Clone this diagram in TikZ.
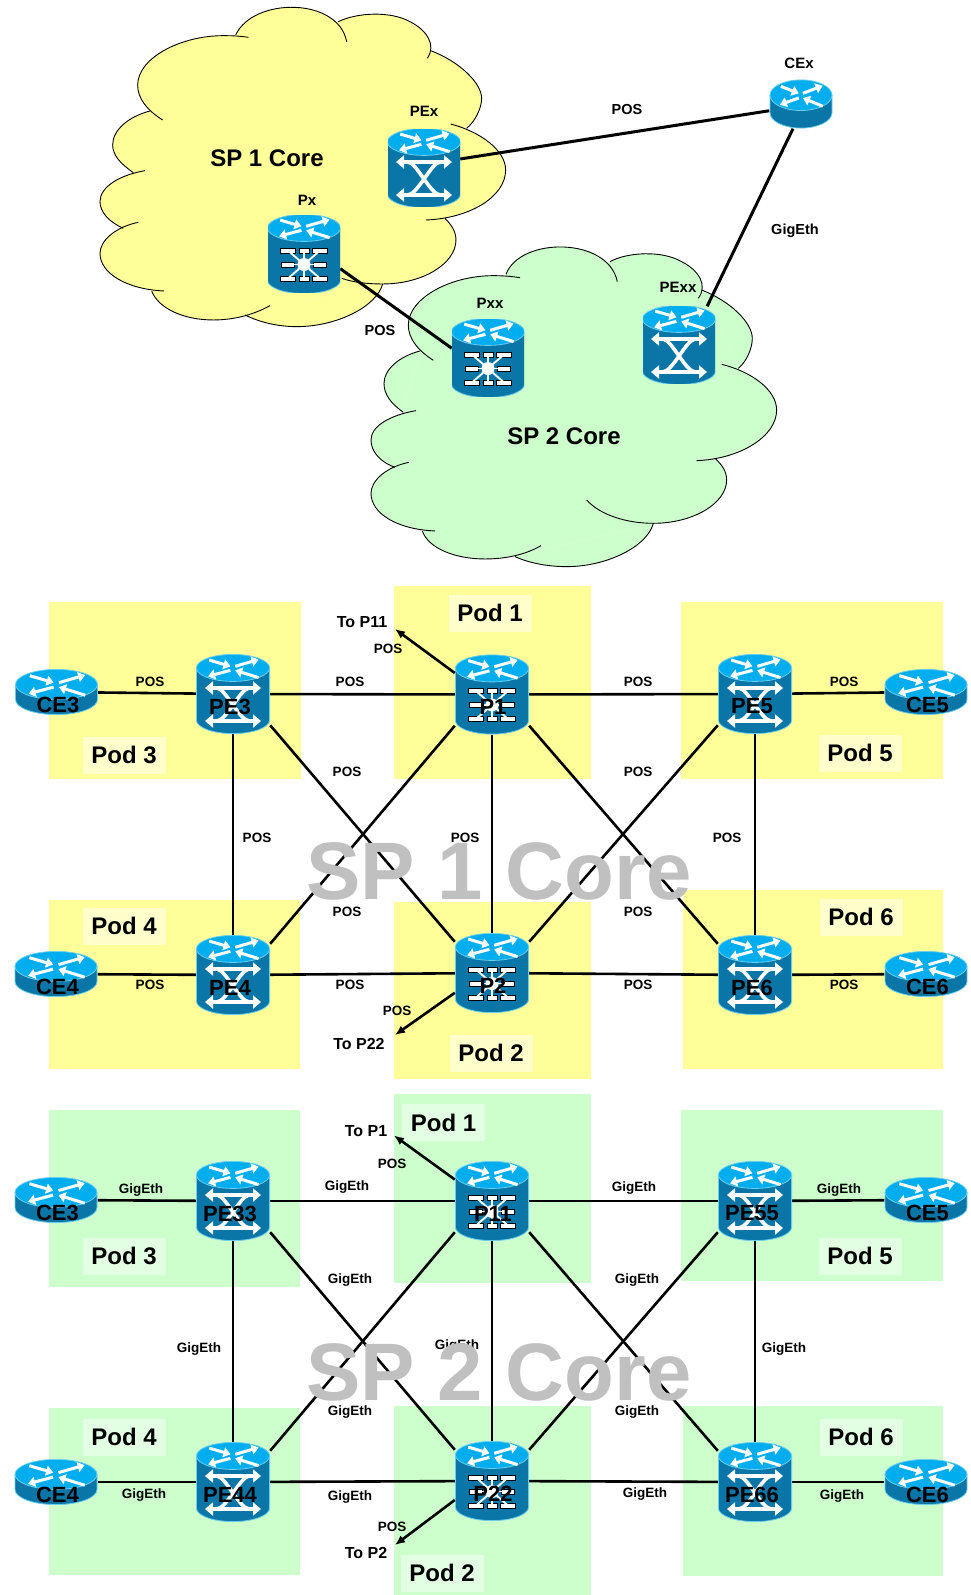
\documentclass[tikz,border=0pt]{standalone}
\usepackage{fontspec}
\setmainfont{Liberation Sans}
\usetikzlibrary{arrows.meta,backgrounds}

\definecolor{bodyblue}{HTML}{0A76A8}
\definecolor{topblue}{HTML}{00AEEF}
\definecolor{edgeblue}{HTML}{6CCDEE}
\definecolor{padyellow}{HTML}{FFFF99}
\definecolor{padgreen}{HTML}{CCFFCC}
\definecolor{tagyellow}{HTML}{FFFFCC}
\definecolor{taggreen}{HTML}{E3FFE3}
\definecolor{markgrey}{HTML}{C0C0C0}

% the cylinder: half width, half height, ry of the ellipses
\newcommand{\cylbase}[3]{%
  \draw[edgeblue,fill=bodyblue,line width=.8pt] (-#1,{#2-#3}) -- (-#1,{-#2+#3})
    arc[start angle=180,end angle=360,x radius=#1,y radius=#3] -- (#1,{#2-#3}) -- cycle;
  \draw[edgeblue,fill=topblue,line width=.8pt] (0,{#2-#3}) ellipse[x radius=#1,y radius=#3];
  \draw[glyph] ({-.65*#1},{#2-.42*#3}) -- ({-.07*#1},{#2-.88*#3});
  \draw[glyph] ({.06*#1},{#2-.88*#3}) -- ({.70*#1},{#2-.38*#3});
  \draw[glyph] ({-.07*#1},{#2-1.18*#3}) -- ({-.68*#1},{#2-1.62*#3});
  \draw[glyph] ({.70*#1},{#2-1.72*#3}) -- ({.06*#1},{#2-1.18*#3});}
\newcommand{\peicon}[1]{%
  \begin{scope}[shift={(path picture bounding box.center)},y=1pt,scale=#1]
    \cylbase{36.6}{39.6}{13.5}
    \draw[xbar] (-16,6) .. controls (-7,5) and (6,-26) .. (16,-27);
    \draw[xbar] (16,6) .. controls (7,5) and (-6,-26) .. (-16,-27);
    \draw[xbar,{Triangle[length=8pt,width=13pt]}-{Triangle[length=8pt,width=13pt]}] (-28,6) -- (28,6);
    \draw[xbar,{Triangle[length=8pt,width=13pt]}-{Triangle[length=8pt,width=13pt]}] (-28,-27) -- (28,-27);
  \end{scope}}
\newcommand{\picon}[1]{%
  \begin{scope}[shift={(path picture bounding box.center)},y=1pt,scale=#1]
    \cylbase{36.6}{39.6}{13.5}
    \foreach \dx/\dy in {-16/14,16/14,-16/-14,16/-14}
      \draw[black,fill=white,line width=.9pt] (\dx-7.5,\dy-13) rectangle (\dx+7.5,\dy-8);
    \foreach \dx/\dy in {-16/0,16/0}
      \draw[black,fill=white,line width=.9pt] (\dx-6.5,\dy-13) rectangle (\dx+6.5,\dy-8);
    \foreach \dx/\dy in {0/14,0/-14}
      \draw[black,fill=white,line width=.9pt] (\dx-5,\dy-13) rectangle (\dx+5,\dy-8);
    \foreach \dx/\dy in {-16/14,0/14,16/14,-16/0,16/0,-16/-14,0/-14,16/-14}
      \draw[white,line width=1.9pt] (0,-10.5) -- (\dx,\dy-10.5);
    \fill[white] (0,-10.5) circle (6.5);
  \end{scope}}
\newcommand{\ceicon}[3]{%
  \begin{scope}[shift={(path picture bounding box.center)},y=1pt]
    \cylbase{#1}{#2}{#3}
  \end{scope}}

\tikzset{
  glyph/.style={white,line width=3pt,-{Triangle[length=7pt,width=10pt]}},
  xbar/.style={white,line width=3.6pt},
  devtext/.style={font=\fontsize{22}{22}\selectfont\bfseries,inner sep=0pt,yshift=-12.5pt},
  pebox/.style={minimum width=74pt,minimum height=80pt,inner sep=0pt,
    path picture={\peicon{1}},label={[devtext,xshift=-3pt]center:#1}},
  pbox/.style={minimum width=74pt,minimum height=80pt,inner sep=0pt,
    path picture={\picon{1}},label={[devtext,xshift=1pt]center:#1}},
  cebox/.style={minimum width=83pt,minimum height=46pt,inner sep=0pt,
    path picture={\ceicon{41}{22.6}{15}},label={[devtext,xshift=1.5pt]center:#1}},
  pesmall/.style={minimum width=72pt,minimum height=77pt,inner sep=0pt,path picture={\peicon{.97}}},
  psmall/.style={minimum width=72pt,minimum height=77pt,inner sep=0pt,path picture={\picon{.97}}},
  cexbox/.style={minimum width=63pt,minimum height=49pt,inner sep=0pt,path picture={\ceicon{31}{24.1}{15.3}}},
  link/.style={line width=2.6pt},
  thicklink/.style={line width=3pt},
  tolink/.style={line width=2.6pt,-{Latex[length=10pt,width=8.5pt]}},
  tag/.style={font=\fontsize{13.5}{14}\selectfont\bfseries,inner sep=0pt},
  toptag/.style={font=\fontsize{14.5}{15}\selectfont\bfseries,inner sep=0pt},
  totag/.style={font=\fontsize{16}{17}\selectfont\bfseries,inner sep=0pt},
  nametag/.style={font=\fontsize{15}{16}\selectfont\bfseries,inner sep=0pt},
  coretag/.style={font=\fontsize{24}{25}\selectfont\bfseries,inner sep=0pt},
  podtag/.style={font=\fontsize{24}{25}\selectfont\bfseries,inner sep=0pt,
    minimum width=83pt,minimum height=37pt},
  watermark/.style={font=\fontsize{81.5}{82}\selectfont\bfseries,text=markgrey,inner sep=0pt},
  cloudline/.style={line width=.9pt},
}

% one list of bumps per cloud, used once to fill and once to stroke
\newcommand{\cloudone}{%
  \bump{(437,105) .. controls (490,-9) and (745,-9) .. (770,125)}
  \bump{(745,65) .. controls (800,38) and (900,32) .. (960,65) .. controls (1010,90) and (1040,135) .. (1012,175)}
  \bump{(1022,152) .. controls (1110,185) and (1175,250) .. (1175,295) .. controls (1175,325) and (1155,365) .. (1130,385)}
  \bump{(1082,372) .. controls (1170,395) and (1247,450) .. (1247,510) .. controls (1247,590) and (1140,655) .. (1008,660)}
  \bump{(1065,655) .. controls (1085,675) and (1098,695) .. (1098,720) .. controls (1098,790) and (1000,852) .. (878,852) .. controls (830,852) and (790,847) .. (755,835)}
  \bump{(878,852) .. controls (860,920) and (740,980) .. (620,980) .. controls (560,980) and (505,965) .. (465,945)}
  \bump{(540,917) .. controls (490,945) and (430,960) .. (370,960) .. controls (280,960) and (205,925) .. (185,873)}
  \bump{(222,873) .. controls (110,868) and (30,820) .. (30,760) .. controls (30,720) and (80,680) .. (145,667)}
  \bump{(100,685) .. controls (55,665) and (30,635) .. (30,605) .. controls (30,560) and (90,525) .. (165,512)}
  \bump{(130,518) .. controls (90,490) and (68,465) .. (68,435) .. controls (68,390) and (115,350) .. (180,333)}
  \bump{(218,360) .. controls (170,330) and (143,295) .. (143,255) .. controls (143,175) and (270,107) .. (400,107) .. controls (425,107) and (450,108) .. (475,112)}}
\newcommand{\cloudtwo}{%
  \bump{(438,118) .. controls (480,5) and (745,5) .. (772,140)}
  \bump{(750,80) .. controls (800,52) and (905,45) .. (965,80) .. controls (1015,105) and (1045,150) .. (1015,190)}
  \bump{(1025,165) .. controls (1115,200) and (1177,265) .. (1177,310) .. controls (1177,340) and (1160,380) .. (1135,400)}
  \bump{(1085,388) .. controls (1175,410) and (1250,465) .. (1250,525) .. controls (1250,605) and (1140,672) .. (1010,677)}
  \bump{(1065,670) .. controls (1087,690) and (1100,710) .. (1100,735) .. controls (1100,805) and (1000,865) .. (880,865) .. controls (800,865) and (720,840) .. (680,795)}
  \bump{(880,865) .. controls (862,935) and (740,995) .. (620,995) .. controls (560,995) and (505,983) .. (465,965)}
  \bump{(543,932) .. controls (495,960) and (435,972) .. (375,972) .. controls (285,972) and (205,940) .. (187,888)}
  \bump{(225,888) .. controls (110,883) and (33,835) .. (33,775) .. controls (33,735) and (82,695) .. (147,682)}
  \bump{(105,697) .. controls (58,680) and (33,648) .. (33,615) .. controls (33,572) and (93,540) .. (168,527)}
  \bump{(130,532) .. controls (92,505) and (72,478) .. (72,445) .. controls (72,405) and (115,365) .. (180,348)}
  \bump{(220,376) .. controls (172,345) and (145,310) .. (145,270) .. controls (145,190) and (270,122) .. (400,122) .. controls (427,122) and (455,124) .. (480,128)}}

\begin{document}
\begin{tikzpicture}[x=1pt,y=-1pt]
\useasboundingbox (0,0) rectangle (971,1595);

% top: the two core clouds
\node[pesmall] (PEx) at (424,168) {};
\node[psmall] (Px) at (304,254) {};
\node[psmall] (Pxx) at (488,358) {};
\node[pesmall] (PExx) at (679,345) {};
\node[cexbox] (CEx) at (801,104) {};

\node[nametag] (tagCEx) at (799,63.5) {CEx};
\node[nametag] (tagPEx) at (424,111.5) {PEx};
\node[nametag] (tagPx) at (307,200.5) {Px};
\node[nametag] (tagPxx) at (490,303.5) {Pxx};
\node[nametag] (tagPExx) at (678,287.5) {PExx};
\node[coretag] (coreA) at (267,158) {SP 1 Core};
\node[coretag] (coreB) at (564,436) {SP 2 Core};
\node[toptag] (posTopA) at (627,110) {POS};
\node[toptag] (gigTop) at (795,231) {GigEth};
\node[toptag] (posTopB) at (380,330.5) {POS};

% middle: SP 1
\node[cebox=CE3] (CE3) at (56.5,692) {};
\node[pebox=PE3] (PE3) at (233,694) {};
\node[pbox=P1] (P1) at (492,694.5) {};
\node[pebox=PE5] (PE5) at (755,694) {};
\node[cebox=CE5] (CE5) at (926,692) {};
\node[cebox=CE4] (CE4) at (56,974) {};
\node[pebox=PE4] (PE4) at (233,975) {};
\node[pbox=P2] (P2) at (492,973) {};
\node[pebox=PE6] (PE6) at (755,975) {};
\node[cebox=CE6] (CE6) at (926,974) {};
\coordinate (toP11) at (395,629);
\coordinate (toP22) at (395,1035);

\node[podtag,fill=tagyellow] (podA3) at (124,755) {Pod 3};
\node[podtag,fill=tagyellow] (podA1) at (490,613) {Pod 1};
\node[podtag,fill=tagyellow] (podA5) at (860,753) {Pod 5};
\node[podtag,fill=tagyellow] (podA4) at (124,926) {Pod 4};
\node[podtag,fill=tagyellow] (podA2) at (491,1053) {Pod 2};
\node[podtag,fill=tagyellow] (podA6) at (861,917) {Pod 6};

\node[totag] (tagToP11) at (362,622) {To P11};
\node[totag] (tagToP22) at (359,1044) {To P22};
\node[tag] (posA1) at (150,681.5) {POS};
\node[tag] (posA2) at (350,681.5) {POS};
\node[tag] (posA3) at (638,681.5) {POS};
\node[tag] (posA4) at (844,681.5) {POS};
\node[tag] (posA5) at (388,648.5) {POS};
\node[tag] (posA6) at (347,771.5) {POS};
\node[tag] (posA7) at (638,771.5) {POS};
\node[tag] (posA8) at (257,837.5) {POS};
\node[tag] (posA9) at (465,837.5) {POS};
\node[tag] (posA10) at (727,837.5) {POS};
\node[tag] (posA11) at (347,911.5) {POS};
\node[tag] (posA12) at (638,911.5) {POS};
\node[tag] (posA13) at (150,985) {POS};
\node[tag] (posA14) at (350,985) {POS};
\node[tag] (posA15) at (638,985) {POS};
\node[tag] (posA16) at (844,985) {POS};
\node[tag] (posA17) at (397,1010.5) {POS};

% bottom: SP 2
\node[cebox=CE3] (CE3b) at (56,1200) {};
\node[pebox=PE33] (PE33) at (233,1201) {};
\node[pbox=P11] (P11) at (492,1201) {};
\node[pebox=PE55] (PE55) at (755,1201) {};
\node[cebox=CE5] (CE5b) at (926,1200) {};
\node[cebox=CE4] (CE4b) at (56,1482) {};
\node[pebox=PE44] (PE44) at (233,1482) {};
\node[pbox=P22] (P22) at (492,1481) {};
\node[pebox=PE66] (PE66) at (755,1482) {};
\node[cebox=CE6] (CE6b) at (926,1482) {};
\coordinate (toP1) at (394,1135.5);
\coordinate (toP2) at (395,1545);

\node[podtag,fill=taggreen] (podB3) at (124,1256) {Pod 3};
\node[podtag,fill=taggreen] (podB1) at (443.5,1122.5) {Pod 1};
\node[podtag,fill=taggreen] (podB5) at (860,1256) {Pod 5};
\node[podtag,fill=taggreen] (podB4) at (124,1437) {Pod 4};
\node[podtag,fill=taggreen] (podB2) at (442,1573) {Pod 2};
\node[podtag,fill=taggreen] (podB6) at (861,1437) {Pod 6};

\node[totag] (tagToP1) at (366,1131) {To P1};
\node[totag] (tagToP2) at (366,1553) {To P2};
\node[tag] (posB1) at (392,1164) {POS};
\node[tag] (posB2) at (392,1527) {POS};
\node[tag] (gigB1) at (141,1190.5) {GigEth};
\node[tag] (gigB2) at (347,1187.5) {GigEth};
\node[tag] (gigB3) at (634,1188.5) {GigEth};
\node[tag] (gigB4) at (839,1190.5) {GigEth};
\node[tag] (gigB5) at (350,1280) {GigEth};
\node[tag] (gigB6) at (637,1280) {GigEth};
\node[tag] (gigB7) at (199,1349) {GigEth};
\node[tag] (gigB8) at (457,1346.5) {GigEth};
\node[tag] (gigB9) at (784,1349.5) {GigEth};
\node[tag] (gigB10) at (350,1412.5) {GigEth};
\node[tag] (gigB11) at (637,1412.5) {GigEth};
\node[tag] (gigB12) at (144,1495.5) {GigEth};
\node[tag] (gigB13) at (350,1497.5) {GigEth};
\node[tag] (gigB14) at (645,1494.5) {GigEth};
\node[tag] (gigB15) at (842,1496.5) {GigEth};

\node[watermark] (markA) at (499,871) {SP 1 Core};
\node[watermark] (markB) at (499,1372) {SP 2 Core};

\draw[tolink] (P1.150) -- (toP11);
\draw[tolink] (P2.208) -- (toP22);
\draw[tolink] (P11.150) -- (toP1);
\draw[tolink] (P22.207) -- (toP2);

\begin{scope}[on background layer]
% clouds
\begin{scope}[shift={(90,0)},x=.3333pt,y=-.3333pt]
  \def\bump#1{\fill[padyellow] #1;}
  \fill[padyellow] (437,105) -- (745,65) -- (1022,152) -- (1130,385) -- (1100,645) -- (1065,655) -- (878,852) -- (465,945) -- (185,873) -- (100,685) -- (130,518) -- (180,333) -- cycle;
  \cloudone
  \def\bump#1{\draw[cloudline] #1;}
  \cloudone
\end{scope}
\begin{scope}[shift={(360,235)},x=.3333pt,y=-.3333pt]
  \def\bump#1{\fill[padgreen] #1;}
  \fill[padgreen] (438,118) -- (750,80) -- (1025,165) -- (1135,400) -- (1110,665) -- (1065,670) -- (880,865) -- (465,965) -- (187,888) -- (105,697) -- (130,532) -- (180,348) -- cycle;
  \cloudtwo
  \def\bump#1{\draw[cloudline] #1;}
  \cloudtwo
\end{scope}

% pods
\fill[padyellow] (49,602) rectangle (301,779);
\fill[padyellow] (394,586) rectangle (591,779);
\fill[padyellow] (681,602) rectangle (943,779);
\fill[padyellow] (49,900) rectangle (300,1069);
\fill[padyellow] (394,902) rectangle (591,1079);
\fill[padyellow] (683,890) rectangle (943,1069);
\fill[padgreen] (49,1110) rectangle (300,1287);
\fill[padgreen] (394,1094) rectangle (591,1283);
\fill[padgreen] (681,1110) rectangle (943,1281);
\fill[padgreen] (49,1408) rectangle (300,1575);
\fill[padgreen] (394,1406) rectangle (591,1595);
\fill[padgreen] (683,1406) rectangle (943,1576);

% links
\draw[thicklink] (PEx.14) -- (CEx.192);
\draw[thicklink] (CEx.252) -- (PExx.54);
\draw[thicklink] (Px.-22) -- (Pxx.165);

\draw[link] (CE3) -- (PE3);
\draw[link] (PE3) -- (P1);
\draw[link] (P1) -- (PE5);
\draw[link] (PE5) -- (CE5);
\draw[link] (CE4) -- (PE4);
\draw[link] (PE4) -- (P2);
\draw[link] (P2) -- (PE6);
\draw[link] (PE6) -- (CE6);
\draw[link] (PE3) -- (PE4);
\draw[link] (P1) -- (P2);
\draw[link] (PE5) -- (PE6);
\draw[link] (PE3.-40) -- (P2.140);
\draw[link] (P1.220) -- (PE4.40);
\draw[link] (P1.-40) -- (PE6.140);
\draw[link] (PE5.220) -- (P2.40);

\draw[link] (CE3b) -- (PE33);
\draw[link] (PE33) -- (P11);
\draw[link] (P11) -- (PE55);
\draw[link] (PE55) -- (CE5b);
\draw[link] (CE4b) -- (PE44);
\draw[link] (PE44) -- (P22);
\draw[link] (P22) -- (PE66);
\draw[link] (PE66) -- (CE6b);
\draw[link] (PE33) -- (PE44);
\draw[link] (P11) -- (P22);
\draw[link] (PE55) -- (PE66);
\draw[link] (PE33.-40) -- (P22.140);
\draw[link] (P11.220) -- (PE44.40);
\draw[link] (P11.-40) -- (PE66.140);
\draw[link] (PE55.220) -- (P22.40);
\end{scope}
\end{tikzpicture}
\end{document}
